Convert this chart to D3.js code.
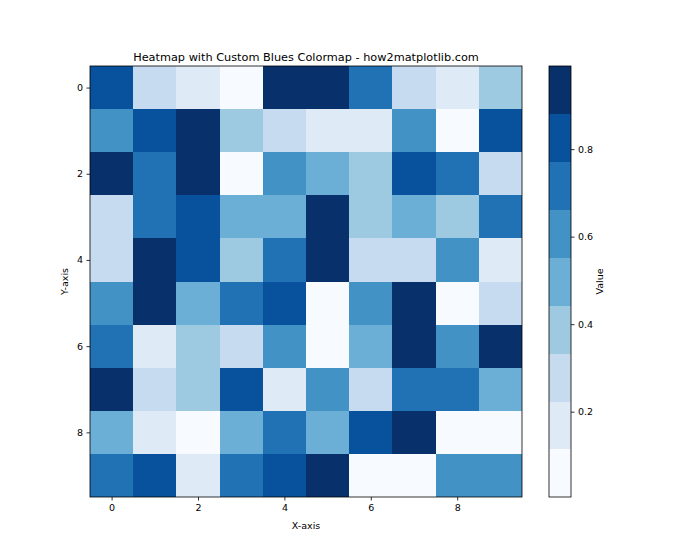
<!DOCTYPE html>
<html><head><meta charset="utf-8">
<script src="https://cdn.jsdelivr.net/npm/d3@7"></script>
<style>body{margin:0;background:#fff}svg{display:block}text{font-family:"DejaVu Sans",sans-serif;fill:#000}</style>
</head><body>
<svg id="c" width="700" height="560"></svg>
<script>
const xCats = [0,1,2,3,4,5,6,7,8,9];
const yCats = [0,1,2,3,4,5,6,7,8,9];
const xTicks = [0,2,4,6,8];
const yTicks = [0,2,4,6,8];
const cbTicks = [0.2,0.4,0.6,0.8];
const values = [
[0.82,0.29,0.16,0.05,0.95,0.93,0.71,0.27,0.18,0.40],
[0.60,0.85,0.97,0.37,0.30,0.15,0.17,0.62,0.03,0.81],
[0.99,0.73,0.92,0.005,0.58,0.49,0.41,0.84,0.70,0.26],
[0.28,0.74,0.83,0.51,0.48,0.96,0.38,0.52,0.39,0.69],
[0.31,0.94,0.86,0.36,0.72,0.91,0.25,0.29,0.63,0.19],
[0.59,0.98,0.47,0.75,0.80,0.02,0.61,0.95,0.07,0.27],
[0.70,0.14,0.42,0.30,0.64,0.04,0.53,0.93,0.57,0.97],
[0.96,0.32,0.35,0.86,0.13,0.60,0.26,0.71,0.76,0.50],
[0.46,0.17,0.08,0.49,0.68,0.45,0.82,0.90,0.01,0.06],
[0.73,0.87,0.20,0.74,0.84,0.92,0.03,0.09,0.62,0.57]
];
const title = "Heatmap with Custom Blues Colormap - how2matplotlib.com";

const svg = d3.select("#c");
const L = 90, R = 522, T = 66, B = 497;
const flat = values.flat();
const ext = d3.extent(flat);
const nLev = 9;
const color = d3.scaleQuantize().domain(ext).range(d3.schemeBlues[nLev]);

const x = d3.scaleLinear().domain([-0.5, 9.5]).range([L, R]);
const y = d3.scaleLinear().domain([-0.5, 9.5]).range([T, B]);

const cells = [];
values.forEach((row, i) => row.forEach((v, j) => cells.push({i, j, v})));
svg.append("g").selectAll("rect").data(cells).join("rect")
  .attr("x", d => x(xCats[d.j] - 0.5))
  .attr("y", d => y(yCats[d.i] - 0.5))
  .attr("width", x(1) - x(0) + 0.3)
  .attr("height", y(1) - y(0) + 0.3)
  .attr("fill", d => color(d.v))
  .attr("shape-rendering", "crispEdges");

const fs = 9.5;
const xAxis = svg.append("g").attr("transform", `translate(0,${B})`)
  .call(d3.axisBottom(x).tickValues(xTicks).tickFormat(d3.format("d")).tickSize(3.5).tickPadding(3.5));
const yAxis = svg.append("g").attr("transform", `translate(${L},0)`)
  .call(d3.axisLeft(y).tickValues(yTicks).tickFormat(d3.format("d")).tickSize(3.5).tickPadding(3.5));
[xAxis, yAxis].forEach(a => {
  a.select(".domain").remove();
  a.selectAll("text").style("font-size", fs + "px").style("font-family", "DejaVu Sans");
  a.selectAll("line").attr("stroke", "#000").attr("stroke-width", 0.8);
});
svg.append("rect").attr("x", L).attr("y", T).attr("width", R - L).attr("height", B - T)
  .attr("fill", "none").attr("stroke", "#000").attr("stroke-width", 0.8);

svg.append("text").attr("x", (L + R) / 2).attr("y", 61).attr("text-anchor", "middle")
  .style("font-size", "11.3px").text(title);
svg.append("text").attr("x", (L + R) / 2).attr("y", 529).attr("text-anchor", "middle")
  .style("font-size", fs + "px").text("X-axis");
svg.append("text").attr("transform", `translate(68,${(T + B) / 2}) rotate(-90)`).attr("text-anchor", "middle")
  .style("font-size", fs + "px").text("Y-axis");

// colorbar
const cbL = 549, cbR = 571;
const cy = d3.scaleLinear().domain(ext).range([B, T]);
const step = (ext[1] - ext[0]) / nLev;
const levels = d3.range(nLev).map(k => ext[0] + k * step);
svg.append("g").selectAll("rect").data(levels).join("rect")
  .attr("x", cbL).attr("width", cbR - cbL)
  .attr("y", d => cy(d + step)).attr("height", d => cy(d) - cy(d + step) + 0.3)
  .attr("fill", d => color(d + step / 2)).attr("shape-rendering", "crispEdges");
svg.append("rect").attr("x", cbL).attr("y", T).attr("width", cbR - cbL).attr("height", B - T)
  .attr("fill", "none").attr("stroke", "#000").attr("stroke-width", 0.8);
const cAxis = svg.append("g").attr("transform", `translate(${cbR},0)`)
  .call(d3.axisRight(cy).tickValues(cbTicks).tickFormat(d3.format(".1f")).tickSize(3.5).tickPadding(3.5));
cAxis.select(".domain").remove();
cAxis.selectAll("text").style("font-size", fs + "px").style("font-family", "DejaVu Sans");
cAxis.selectAll("line").attr("stroke", "#000").attr("stroke-width", 0.8);
svg.append("text").attr("transform", `translate(603,${(T + B) / 2}) rotate(-90)`).attr("text-anchor", "middle")
  .style("font-size", fs + "px").text("Value");
</script>
</body></html>
